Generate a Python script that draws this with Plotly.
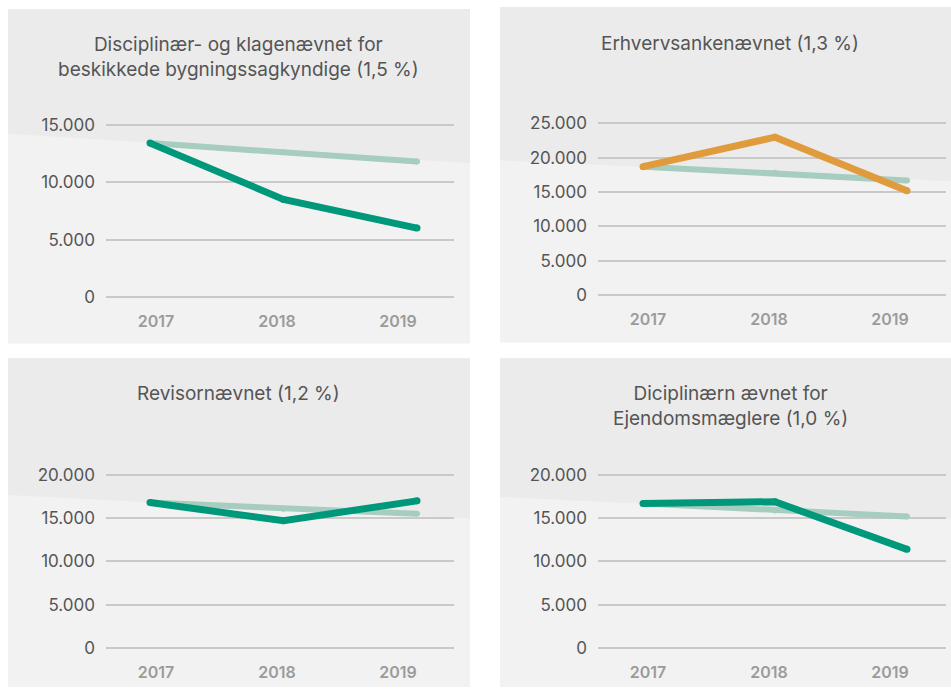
import plotly.graph_objects as go

W, H = 951, 692

years = ["2017", "2018", "2019"]

titles = [
    "Disciplinær- og klagenævnet for<br>beskikkede bygningssagkyndige (1,5 %)",
    "Erhvervsankenævnet (1,3 %)",
    "Revisornævnet (1,2 %)",
    "Diciplinærn ævnet for<br>Ejendomsmæglere (1,0 %)",
]

# main series (own board) and comparison series (light line)
p1_board = [13400, 8500, 6000]
p1_avg = [13400, 12600, 11800]
p2_board = [18700, 23000, 15200]
p2_avg = [18700, 17800, 16700]
p3_board = [16800, 14700, 17000]
p3_avg = [16800, 16100, 15500]
p4_board = [16700, 16900, 11400]
p4_avg = [16700, 15900, 15200]

y_ticks_1 = [0, 5000, 10000, 15000]
y_ticks_2 = [0, 5000, 10000, 15000, 20000, 25000]
y_ticks_3 = [0, 5000, 10000, 15000, 20000]
y_ticks_4 = [0, 5000, 10000, 15000, 20000]

DARK = "#00987a"
LIGHT = "#a6cdbf"
ORANGE = "#e09c3c"
BG_LIGHT = "#f2f2f2"
BG_DARK = "#ebebeb"
GRID = "#c9c9c9"
FONT = "Inter"

panels = [
    dict(board=p1_board, avg=p1_avg, color=DARK, ticks=y_ticks_1, title=titles[0],
         rect=(8, 7, 470, 345), bl=133, br=163,
         gx=(106, 454), y0=298, ytop=124, pts=(150, 417), labs=(156, 398),
         tx=238, ty=56),
    dict(board=p2_board, avg=p2_avg, color=ORANGE, ticks=y_ticks_2, title=titles[1],
         rect=(500, 5, 951, 344), bl=160, br=181,
         gx=(598, 946), y0=296, ytop=122.7, pts=(643, 907), labs=(648, 890),
         tx=730, ty=42),
    dict(board=p3_board, avg=p3_avg, color=DARK, ticks=y_ticks_3, title=titles[2],
         rect=(8, 360, 470, 692), bl=498, br=522,
         gx=(106, 454), y0=652.7, ytop=477.7, pts=(150, 417), labs=(156, 398),
         tx=238, ty=395),
    dict(board=p4_board, avg=p4_avg, color=DARK, ticks=y_ticks_4, title=titles[3],
         rect=(500, 360, 951, 692), bl=500, br=522,
         gx=(598, 946), y0=652.7, ytop=477.7, pts=(643, 907), labs=(648, 890),
         tx=730, ty=408),
]


def px(x):
    return x / W


def py(y):
    return 1 - y / H


fig = go.Figure()
layout = dict(
    width=W, height=H, margin=dict(l=0, r=0, t=0, b=0),
    paper_bgcolor="white", plot_bgcolor="rgba(0,0,0,0)",
    showlegend=False, separators=",.",
    font=dict(family=FONT, color="#555555"),
)
shapes = []
annotations = []

for i, p in enumerate(panels):
    n = i + 1
    xa = f"x{n}" if n > 1 else "x"
    ya = f"y{n}" if n > 1 else "y"
    lab_n = n + 4
    xl = f"x{lab_n}"

    # background
    x0, y0r, x1, y1r = p["rect"]
    shapes.append(dict(type="rect", xref="paper", yref="paper", layer="below",
                       x0=px(x0), x1=px(x1), y0=py(y1r), y1=py(y0r),
                       fillcolor=BG_LIGHT, line=dict(width=0)))
    path = (f"M {px(x0)},{py(y0r)} L {px(x1)},{py(y0r)} "
            f"L {px(x1)},{py(p['br'])} L {px(x0)},{py(p['bl'])} Z")
    shapes.append(dict(type="path", xref="paper", yref="paper", layer="below",
                       path=path, fillcolor=BG_DARK, line=dict(width=0)))

    # geometry
    gx0, gx1 = p["gx"]
    pf, pl = p["pts"]
    u = (pl - pf) / 2
    xr = [(gx0 - pf) / u, (gx1 - pf) / u]
    lf, ll = p["labs"]
    lu = (ll - lf) / 2
    lr = [(gx0 - lf) / lu, (gx1 - lf) / lu]

    top = p["ticks"][-1]
    ppu = (p["y0"] - p["ytop"]) / top
    pad_b, pad_t = 5, 8
    yr = [-pad_b / ppu, top + pad_t / ppu]
    ydom = [py(p["y0"] + pad_b), py(p["ytop"] - pad_t)]

    layout[f"xaxis{n}" if n > 1 else "xaxis"] = dict(
        domain=[px(gx0), px(gx1)], anchor=ya, type="category", range=xr,
        showgrid=False, zeroline=False, showticklabels=False, showline=False,
        fixedrange=True,
    )
    layout[f"yaxis{n}" if n > 1 else "yaxis"] = dict(
        domain=ydom, anchor=xa, range=yr, tickvals=p["ticks"], tickformat=",d",
        showgrid=True, gridcolor=GRID, gridwidth=1.6, zeroline=False,
        showline=False, ticks="", ticklabelstandoff=10,
        tickfont=dict(family=FONT, size=17, color="#555555"),
    )
    layout[f"xaxis{lab_n}"] = dict(
        domain=[px(gx0), px(gx1)], anchor=ya, overlaying=xa, range=lr,
        tickmode="array", tickvals=[0, 1, 2], ticktext=years,
        showgrid=False, zeroline=False, showline=False, ticks="",
        ticklabelstandoff=8,
        tickfont=dict(family=FONT, size=16, color="#9b9b9b", weight=600),
    )

    fig.add_trace(go.Scatter(x=[None], y=[None], xaxis=xl, yaxis=ya,
                             hoverinfo="skip", mode="lines"))
    fig.add_trace(go.Scatter(x=years, y=p["avg"], xaxis=xa, yaxis=ya,
                             mode="lines+markers",
                             line=dict(color=LIGHT, width=6),
                             marker=dict(color=LIGHT, size=6)))
    fig.add_trace(go.Scatter(x=years, y=p["board"], xaxis=xa, yaxis=ya,
                             mode="lines+markers",
                             line=dict(color=p["color"], width=7),
                             marker=dict(color=p["color"], size=7)))

    annotations.append(dict(
        text=p["title"], xref="paper", yref="paper", x=px(p["tx"]), y=py(p["ty"]),
        xanchor="center", yanchor="middle", showarrow=False, align="center",
        font=dict(family=FONT, size=19, color="#555555"),
    ))

layout["shapes"] = shapes
layout["annotations"] = annotations
fig.update_layout(**layout)

fig.write_html(
    "out.html",
    config={"displayModeBar": False},
    post_script="document.body.style.margin='0';document.body.style.overflow='hidden';",
)
